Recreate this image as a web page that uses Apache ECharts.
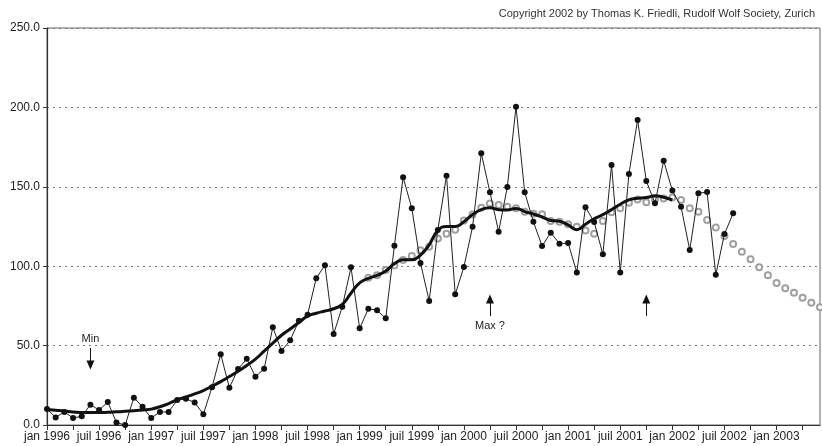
<!DOCTYPE html>
<html>
<head>
<meta charset="utf-8">
<script src="https://cdn.jsdelivr.net/npm/echarts@6/dist/echarts.min.js"></script>
<style>
  html, body { margin: 0; padding: 0; background: #fff; }
  #chart { width: 822px; height: 446px; }
</style>
</head>
<body>
<div id="chart"></div>
<script>
// mois (libellés de l'axe) : jan 1996 .. juin 2003
var monthNames = ['jan', 'févr', 'mars', 'avr', 'mai', 'juin', 'juil', 'août', 'sept', 'oct', 'nov', 'déc'];
var categories = [];
for (var y = 1996; y <= 2003; y++) {
    for (var m = 0; m < 12; m++) {
        if (y === 2003 && m > 5) break;
        categories.push(monthNames[m] + ' ' + y);
    }
}

// valeurs mensuelles (jan 1996 .. août 2002)
var monthly = [
    10.0, 4.8, 8.2, 4.4, 5.5, 12.8, 9.4, 14.5, 1.5, 0.0, 17.2, 11.5,
    4.4, 8.2, 8.2, 15.7, 16.5, 14.2, 6.8, 23.8, 44.6, 23.5, 35.2, 41.7,
    30.4, 35.4, 61.5, 46.6, 53.3, 65.7, 69.5, 92.4, 100.6, 57.3, 74.5, 99.3,
    60.9, 73.2, 72.2, 67.2, 112.9, 156.0, 136.5, 102.0, 78.1, 122.8, 157.0, 82.3,
    99.5, 124.9, 171.1, 146.5, 121.7, 149.9, 200.4, 146.5, 128.0, 112.7, 121.1, 114.2,
    114.6, 96.1, 137.1, 127.8, 107.5, 163.7, 96.0, 158.1, 192.1, 153.7, 139.6, 166.4,
    147.6, 137.5, 110.2, 145.9, 146.7, 94.6, 120.3, 133.3
];

// moyenne lissée (jan 1996 .. jan 2002)
var smoothed = [
    9.8, 9.3, 8.8, 8.2, 7.9, 7.8, 7.8, 8.0, 8.3, 8.6, 9.0, 9.5,
    10.0, 11.5, 13.5, 15.9, 17.7, 19.6, 21.7, 24.5, 27.3, 30.5, 33.8, 37.5,
    41.5, 46.5, 51.5, 56.5, 60.5, 64.5, 68.5, 70.4, 71.8, 73.2, 76.0, 83.0,
    89.5, 92.3, 94.2, 97.0, 101.5, 104.0, 104.0, 107.0, 113.5, 122.5, 125.0, 125.0,
    128.0, 132.5, 135.6, 136.8, 135.6, 135.4, 136.4, 134.4, 132.9, 131.0, 128.8, 128.3,
    126.0, 123.0, 126.4, 129.9, 132.5, 135.6, 139.0, 141.8, 142.8, 143.2, 144.4, 143.4,
    141.7
];

// prévision (févr 1999 .. juin 2003)
var predictStart = 37;
var predicted = [
    92.8, 94.3, 97.6, 100.5, 103.9, 106.4, 110.0, 112.3, 117.5, 120.5, 123.0,
    128.7, 132.5, 136.8, 139.5, 138.5, 137.5, 136.5, 134.3, 133.0, 132.7, 128.5, 128.0,
    126.4, 124.9, 122.5, 120.5, 128.5, 134.0, 136.5, 140.0, 142.0, 140.2, 142.0, 142.7,
    143.2, 141.7, 136.5, 134.3, 129.1, 124.3, 119.0, 114.0, 109.1, 104.3, 99.3, 94.3,
    89.4, 86.1, 83.3, 80.2, 77.0, 74.1
];

// flèches : [mois, départ, pointe, texte]
var arrows = [
    ['juin 1996', 48.5, 37.8, 'Min'],
    ['avr 2000', 68.6, 79.3, 'Max ?'],
    ['oct 2001', 68.6, 79.3, '']
];

var predictedData = categories.map(function (c, i) {
    var k = i - predictStart;
    return (k >= 0 && k < predicted.length) ? predicted[k] : null;
});

var chart = echarts.init(document.getElementById('chart'));
var font = 'Liberation Sans, Arial, sans-serif';

chart.setOption({
    animation: false,
    backgroundColor: '#fff',
    textStyle: { fontFamily: font },
    title: {
        text: 'Copyright 2002 by Thomas K. Friedli, Rudolf Wolf Society, Zurich',
        right: 2,
        top: 3,
        textStyle: { fontSize: 11, fontWeight: 'normal', color: '#333', fontFamily: font }
    },
    grid: {
        left: 47, right: 2, top: 28, bottom: 21,
        show: true, borderColor: '#666', borderWidth: 1
    },
    xAxis: {
        type: 'category',
        data: categories,
        boundaryGap: false,
        axisLine: { lineStyle: { color: '#333', width: 1.2 } },
        axisTick: { interval: 2, length: 5, lineStyle: { color: '#333' } },
        axisLabel: { interval: 5, color: '#222', fontSize: 12, margin: 6 },
        splitLine: { show: false }
    },
    yAxis: {
        type: 'value',
        min: 0, max: 250, interval: 50,
        axisLine: { show: true, lineStyle: { color: '#333', width: 1.2 } },
        axisTick: { show: true, length: 4, lineStyle: { color: '#333' } },
        axisLabel: {
            color: '#222', fontSize: 12, margin: 7,
            formatter: function (v) { return v.toFixed(1); }
        },
        splitLine: { lineStyle: { color: '#777', type: [2, 4], width: 1 } }
    },
    series: [
        {
            name: 'prévision',
            type: 'line',
            data: predictedData,
            showSymbol: true,
            showAllSymbol: true,
            symbol: 'emptyCircle',
            symbolSize: 6,
            lineStyle: { width: 0, opacity: 0 },
            itemStyle: { color: '#a0a0a0', borderWidth: 1 },
            emphasis: { disabled: true },
            z: 1
        },
        {
            name: 'mensuel',
            type: 'line',
            data: monthly,
            symbol: 'circle',
            symbolSize: 6,
            showAllSymbol: true,
            lineStyle: { color: '#222', width: 1 },
            itemStyle: { color: '#111' },
            z: 2
        },
        {
            name: 'lissé',
            type: 'line',
            data: smoothed,
            smooth: true,
            showSymbol: false,
            lineStyle: { color: '#111', width: 3 },
            z: 3,
            markLine: {
                silent: true,
                symbol: ['none', 'triangle'],
                symbolSize: [8, 9],
                lineStyle: { color: '#111', width: 1, type: 'solid' },
                label: {
                    position: 'start',
                    color: '#222',
                    fontSize: 11,
                    distance: 4,
                    formatter: function (p) { return p.data.txt || ''; }
                },
                data: arrows.map(function (a) {
                    return [
                        { coord: [a[0], a[1]], txt: a[3] },
                        { coord: [a[0], a[2]] }
                    ];
                })
            }
        }
    ]
});

window.onresize = function () {
    chart.resize();
};
</script>
</body>
</html>
